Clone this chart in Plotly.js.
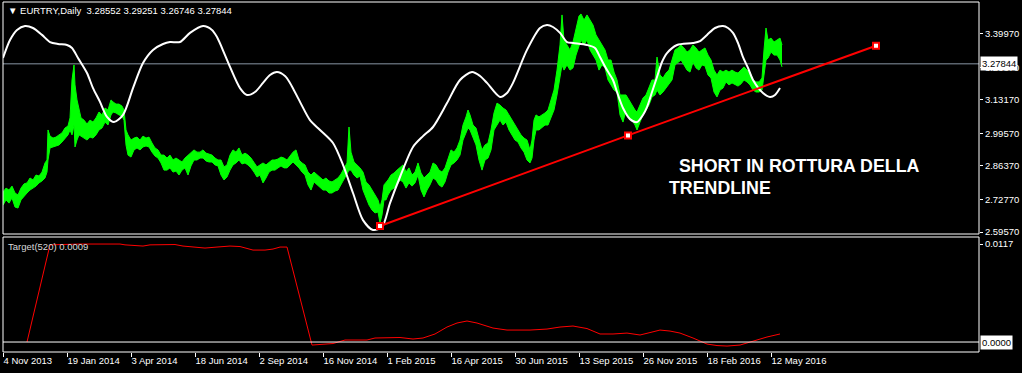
<!DOCTYPE html>
<html><head><meta charset="utf-8">
<script src="https://cdn.plot.ly/plotly-3.0.1.min.js"></script>
<style>html,body{margin:0;padding:0;background:#000;}#chart{width:1022px;height:373px;}</style>
</head><body><div id="chart"></div>
<script>
// ---- price band (daily EURTRY, sampled highs/lows by bar index) ----
const priceBar = [0,3,6,9,12,15,18,21,24,27,
30,33,36,39,42,44,45,47,50,53,
56,59,62,65,67,69,71,72,74,76,
78,81,84,87,90,93,96,99,102,105,
108,110,113,116,119,121,123,125,128,131,
134,137,140,143,146,149,152,155,158,161,
164,167,170,173,176,179,182,185,188,191,
194,197,200,203,206,209,212,215,218,221,
224,227,230,233,236,239,242,245,248,251,
254,257,260,263,266,269,272,275,278,281,
284,287,290,293,296,299,302,305,308,311,
314,317,320,323,326,329,332,335,338,341,
344,346,348,351,354,357,360,363,366,369,
372,375,377,379,381,383,385,388,391,394,
397,400,403,406,409,412,415,418,421,424,
427,430,433,436,439,442,445,448,451,454,
457,460,463,465,467,470,473,476,479,482,
485,488,491,494,497,500,503,506,509,512,
515,518,521,524,527,529,531,533,536,539,
542,545,548,551,554,557,559,561,564,567,
570,573,576,578,581,584,587,590,593,596,
599,602,605,608,611,614,617,620,623,626,
629,632,634,637,640,643,646,649,652,654,
657,660,663,666,669,672,675,678,681,684,
687,690,693,696,699,702,705,708,711,714,
717,720,723,726,729,732,735,738,741,744,
747,750,753,756,759,761,763,765,768,771,
774,777,779];
const priceHigh = [2.758,2.774,2.766,2.782,2.754,2.746,2.774,2.791,2.795,2.815,
2.807,2.827,2.823,2.839,2.876,2.888,3.010,2.985,2.977,2.981,
2.990,2.998,3.018,3.026,3.059,3.213,3.274,3.193,3.132,3.091,
3.059,3.050,3.034,3.050,3.042,3.059,3.083,3.071,3.099,3.091,
3.132,3.124,3.115,3.115,3.107,3.091,3.010,2.990,2.969,2.977,
2.981,2.969,2.985,2.977,2.981,2.957,2.937,2.929,2.908,2.908,
2.896,2.908,2.888,2.896,2.888,2.880,2.896,2.908,2.920,2.929,
2.920,2.920,2.929,2.916,2.912,2.908,2.896,2.888,2.888,2.860,
2.868,2.908,2.929,2.920,2.937,2.908,2.916,2.908,2.896,2.876,
2.860,2.868,2.876,2.868,2.880,2.888,2.888,2.892,2.900,2.896,
2.888,2.904,2.920,2.929,2.888,2.876,2.868,2.839,2.827,2.839,
2.827,2.819,2.807,2.815,2.803,2.799,2.807,2.815,2.831,2.856,
2.876,3.022,2.920,2.880,2.868,2.856,2.839,2.799,2.787,2.766,
2.746,2.726,2.697,2.726,2.787,2.795,2.807,2.827,2.835,2.847,
2.856,2.868,2.839,2.856,2.827,2.839,2.876,2.835,2.815,2.827,
2.839,2.876,2.868,2.847,2.839,2.856,2.896,2.929,2.920,2.937,
2.969,3.030,3.063,3.091,3.071,3.030,3.018,2.969,2.929,2.949,
2.957,3.010,3.079,3.119,3.111,3.099,3.091,3.071,3.050,3.030,
3.010,2.990,2.977,2.969,2.929,2.969,3.050,3.071,3.063,3.071,
3.079,3.091,3.132,3.172,3.253,3.355,3.477,3.375,3.355,3.335,
3.367,3.416,3.473,3.481,3.456,3.477,3.456,3.436,3.396,3.375,
3.355,3.335,3.294,3.294,3.245,3.213,3.152,3.152,3.152,3.132,
3.111,3.091,3.083,3.111,3.140,3.152,3.180,3.213,3.213,3.306,
3.233,3.221,3.241,3.253,3.294,3.335,3.343,3.355,3.343,3.326,
3.335,3.355,3.343,3.326,3.335,3.343,3.314,3.294,3.253,3.233,
3.253,3.245,3.253,3.245,3.253,3.245,3.241,3.253,3.266,3.253,
3.245,3.213,3.205,3.205,3.221,3.335,3.424,3.375,3.383,3.367,
3.375,3.383,3.355];
const priceLow = [2.705,2.726,2.713,2.734,2.697,2.693,2.726,2.742,2.754,2.766,
2.774,2.782,2.795,2.803,2.815,2.839,2.888,2.937,2.941,2.945,
2.949,2.961,2.977,2.990,3.010,2.990,3.030,2.941,2.969,2.990,
2.985,2.977,2.969,2.981,2.977,2.990,3.010,3.018,3.042,3.030,
3.071,3.083,3.079,3.071,3.067,3.050,2.949,2.908,2.900,2.929,
2.937,2.929,2.941,2.945,2.941,2.920,2.904,2.896,2.876,2.847,
2.847,2.856,2.839,2.843,2.827,2.847,2.856,2.827,2.864,2.888,
2.888,2.896,2.896,2.884,2.880,2.880,2.868,2.864,2.827,2.807,
2.819,2.847,2.868,2.876,2.888,2.872,2.876,2.868,2.856,2.839,
2.819,2.827,2.795,2.815,2.839,2.847,2.847,2.856,2.864,2.856,
2.856,2.868,2.880,2.868,2.856,2.839,2.827,2.787,2.766,2.799,
2.787,2.774,2.766,2.766,2.754,2.754,2.762,2.766,2.787,2.807,
2.827,2.847,2.847,2.827,2.815,2.823,2.766,2.734,2.705,2.685,
2.673,2.677,2.632,2.665,2.726,2.726,2.746,2.766,2.774,2.787,
2.807,2.799,2.774,2.795,2.782,2.795,2.827,2.766,2.738,2.766,
2.787,2.815,2.807,2.787,2.778,2.799,2.839,2.868,2.876,2.888,
2.908,2.969,3.002,3.018,3.010,2.977,2.949,2.888,2.847,2.888,
2.896,2.929,3.010,3.030,3.050,3.030,3.042,3.010,2.990,2.969,
2.961,2.937,2.920,2.888,2.876,2.896,2.969,3.010,3.010,3.022,
3.030,3.030,3.059,3.091,3.152,3.233,3.274,3.253,3.274,3.253,
3.262,3.314,3.355,3.375,3.355,3.375,3.335,3.314,3.294,3.253,
3.274,3.262,3.213,3.193,3.172,3.164,3.071,3.042,3.091,3.059,
3.050,3.030,3.010,3.042,3.071,3.091,3.111,3.144,3.152,3.172,
3.152,3.164,3.180,3.193,3.213,3.274,3.286,3.294,3.274,3.253,
3.245,3.286,3.262,3.253,3.274,3.270,3.233,3.221,3.164,3.144,
3.172,3.180,3.205,3.193,3.201,3.193,3.188,3.197,3.213,3.205,
3.193,3.172,3.164,3.164,3.172,3.233,3.294,3.302,3.326,3.314,
3.314,3.294,3.266];

// ---- smooth white indicator curve on the price panel ----
const curveBar = [0,7,14,22,30,39,47,55,64,69,75,84,90,97,104,111,120,130,140,150,
160,167,177,187,200,209,214,222,227,237,244,252,260,267,274,282,287,297,307,317,
330,340,350,360,370,379,387,397,410,420,430,444,457,469,477,484,497,504,510,524,
537,544,550,557,564,570,584,592,597,604,610,614,620,627,634,640,644,649,654,659,
664,674,690,697,704,712,720,725,730,735,740,745,750,760,767,772,777];
const curveVal = [3.302,3.375,3.416,3.432,3.424,3.396,3.367,3.359,3.355,3.343,3.302,3.241,3.180,3.124,3.063,3.042,3.071,3.180,3.282,3.335,
3.359,3.367,3.367,3.404,3.432,3.416,3.387,3.314,3.266,3.180,3.152,3.164,3.201,3.233,3.245,3.229,3.201,3.124,3.050,3.010,
2.957,2.868,2.754,2.644,2.604,2.616,2.713,2.819,2.941,2.985,3.022,3.119,3.213,3.245,3.229,3.201,3.144,3.160,3.201,3.335,
3.424,3.436,3.428,3.404,3.367,3.363,3.355,3.343,3.306,3.253,3.213,3.164,3.099,3.054,3.042,3.071,3.103,3.164,3.225,3.286,
3.322,3.355,3.363,3.371,3.396,3.424,3.432,3.424,3.404,3.363,3.306,3.262,3.213,3.160,3.144,3.152,3.180];

// ---- trendline ----
const trendBar = [377, 625, 873];
const trendVal = [2.620, 2.988, 3.352];

// ---- Target(520) sub-window ----
const targetBar = [24,47,77,117,122,140,147,162,172,180,192,202,214,227,237,245,250,262,270,277,284,
309,317,330,342,364,372,397,410,420,432,444,454,464,474,484,490,504,527,544,557,570,584,597,610,
624,637,649,657,667,677,690,704,714,724,737,750,764,777];
const targetVal = [0.0000,0.0116,0.0117,0.0117,0.0116,0.01146,0.0116,0.0116,0.01164,0.01146,0.01128,0.01122,0.01134,0.01146,0.0114,0.0111,0.01098,0.01098,0.0111,0.01134,0.01134,
-0.00036,-0.0003,-0.00018,0.00024,0.00024,0.00048,0.00054,0.00036,0.00048,0.00096,0.00179,0.00227,0.00251,0.00227,0.00191,0.00167,0.00143,0.00143,0.00155,0.00179,0.00191,0.00161,0.00096,0.00096,
0.00107,0.00084,0.00119,0.00143,0.00131,0.00107,0.00048,-0.00024,-0.00042,-0.00048,-0.00036,0.00012,0.0006,0.00096];

// ---- axis labels ----
const dateTickBar = [0,64,128,192,256,320,384,448,512,576,640,704,768];
const dateTickText = ['4 Nov 2013','19 Jan 2014','3 Apr 2014','18 Jun 2014','2 Sep 2014','16 Nov 2014','1 Feb 2015','16 Apr 2015','30 Jun 2015','13 Sep 2015','26 Nov 2015','18 Feb 2016','12 May 2016'];
const priceTicks = [3.3997, 3.2637, 3.1317, 2.9957, 2.8637, 2.7277, 2.5957];
const targetTicks = [0.0117];
const lastPrice = 3.27844;
const lastTarget = 0.0000;
const headerText = '\u25BC EURTRY,Daily  3.28552 3.29251 3.26746 3.27844';
const targetLabel = 'Target(520) 0.0009';
const noteLines = ['SHORT IN ROTTURA DELLA', 'TRENDLINE'];

const FONT = 'Liberation Sans, Arial, sans-serif';
const W = 1022, H = 373, ML = 3, MR = 43, MT = 2, MB = 21;
const plotH = H - MT - MB;
const py = p => (H - MB - p) / plotH;          // pixel row -> paper y
const px = p => (p - ML) / (W - ML - MR);      // pixel col -> paper x

const traces = [
  {x: priceBar, y: priceLow, type: 'scatter', mode: 'lines', line: {color: '#00ff00', width: 1}, xaxis: 'x', yaxis: 'y', hoverinfo: 'skip'},
  {x: priceBar, y: priceHigh, type: 'scatter', mode: 'lines', fill: 'tonexty', fillcolor: '#00ff00', line: {color: '#00ff00', width: 1}, xaxis: 'x', yaxis: 'y', hoverinfo: 'skip'},
  {x: curveBar, y: curveVal, type: 'scatter', mode: 'lines', line: {color: '#ffffff', width: 2, shape: 'spline', smoothing: 0.8}, xaxis: 'x', yaxis: 'y'},
  {x: trendBar, y: trendVal, type: 'scatter', mode: 'lines+markers', line: {color: '#ff0000', width: 2},
   marker: {symbol: 'square', size: 6, color: '#ffffff', line: {color: '#ff0000', width: 2}}, xaxis: 'x', yaxis: 'y'},
  {x: targetBar, y: targetVal, type: 'scatter', mode: 'lines', line: {color: '#ff0000', width: 1}, xaxis: 'x', yaxis: 'y2'}
];

const axisFont = {family: FONT, size: 9.5, color: '#ffffff'};
const layout = {
  width: W, height: H,
  margin: {l: ML, r: MR, t: MT, b: MB, pad: 0},
  paper_bgcolor: '#000000', plot_bgcolor: '#000000',
  showlegend: false, hovermode: false,
  xaxis: {range: [0, 976], anchor: 'y2', tickvals: dateTickBar, ticktext: dateTickText,
    ticks: 'outside', ticklen: 4, tickcolor: '#ffffff', tickfont: axisFont,
    ticklabelposition: 'outside right', showgrid: false, zeroline: false, showline: false},
  yaxis: {domain: [py(234), 1], range: [2.5876, 3.5295], side: 'right', anchor: 'x',
    tickvals: priceTicks, ticktext: priceTicks.map(v => v.toFixed(5)),
    ticks: 'outside', ticklen: 3, tickcolor: '#ffffff', tickfont: axisFont,
    showgrid: false, zeroline: false, showline: false},
  yaxis2: {domain: [0, py(237)], range: [-0.00119, 0.01254], side: 'right', anchor: 'x',
    tickvals: targetTicks, ticktext: targetTicks.map(v => v.toFixed(4)),
    ticks: 'outside', ticklen: 3, tickcolor: '#ffffff', tickfont: axisFont,
    showgrid: false, zeroline: false, showline: false},
  shapes: [
    {type: 'line', xref: 'paper', x0: 0, x1: 1, yref: 'y', y0: lastPrice, y1: lastPrice, line: {color: '#8896a4', width: 1}, layer: 'below'},
    {type: 'line', xref: 'paper', x0: 0, x1: 1, yref: 'y2', y0: lastTarget, y1: lastTarget, line: {color: '#ffffff', width: 1}},
    {type: 'rect', xref: 'paper', yref: 'paper', x0: 0, x1: 1, y0: py(234), y1: 1, line: {color: '#ffffff', width: 1}},
    {type: 'rect', xref: 'paper', yref: 'paper', x0: 0, x1: 1, y0: 0, y1: py(237), line: {color: '#ffffff', width: 1}}
  ],
  annotations: [
    {xref: 'paper', yref: 'paper', x: px(6), y: py(11), xanchor: 'left', yanchor: 'middle', showarrow: false,
     text: headerText, font: {family: FONT, size: 9.5, color: '#ffffff'}},
    {xref: 'paper', yref: 'paper', x: px(6), y: py(247), xanchor: 'left', yanchor: 'middle', showarrow: false,
     text: targetLabel, font: {family: FONT, size: 9.5, color: '#d8d8d8'}},
    {xref: 'paper', yref: 'paper', x: px(677), y: py(166), xanchor: 'left', yanchor: 'middle', showarrow: false,
     text: '<b>' + noteLines[0] + '</b>', font: {family: FONT, size: 17.8, color: '#ffffff'}},
    {xref: 'paper', yref: 'paper', x: px(667), y: py(188), xanchor: 'left', yanchor: 'middle', showarrow: false,
     text: '<b>' + noteLines[1] + '</b>', font: {family: FONT, size: 17.8, color: '#ffffff'}},
    {xref: 'paper', yref: 'y', x: 1, y: lastPrice, xanchor: 'left', yanchor: 'middle', xshift: 1, showarrow: false,
     text: lastPrice.toFixed(5), bgcolor: '#ffffff', borderpad: 1, font: {family: FONT, size: 9.5, color: '#000000'}},
    {xref: 'paper', yref: 'y2', x: 1, y: lastTarget, xanchor: 'left', yanchor: 'middle', xshift: 1, showarrow: false,
     text: lastTarget.toFixed(4), bgcolor: '#ffffff', borderpad: 1, font: {family: FONT, size: 9.5, color: '#000000'}}
  ]
};
Plotly.newPlot('chart', traces, layout, {staticPlot: true, displayModeBar: false});
</script></body></html>
